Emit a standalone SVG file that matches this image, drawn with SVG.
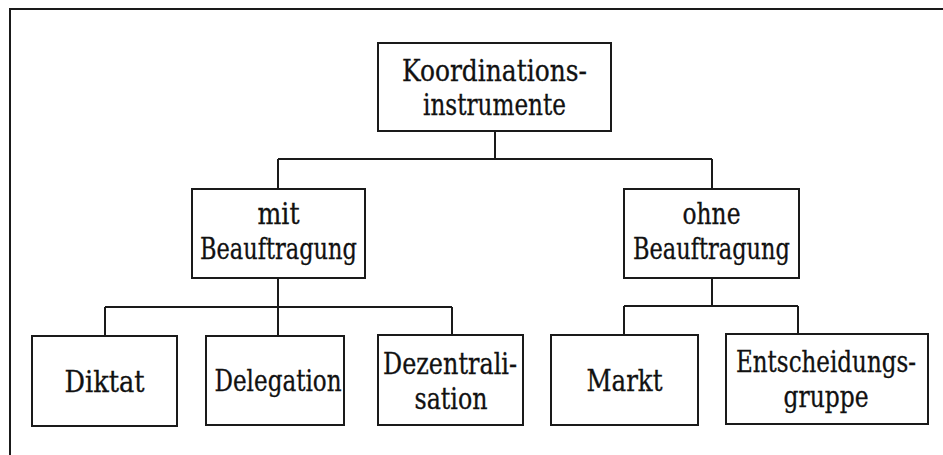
<svg xmlns="http://www.w3.org/2000/svg" width="943" height="455" viewBox="0 0 943 455">
<style>
.box{fill:#fff;stroke:#1a1a1a;stroke-width:2}
.ln{fill:none;stroke:#1a1a1a;stroke-width:2}
text{font-family:'DejaVu Serif Condensed','DejaVu Serif','Liberation Serif',serif;font-size:30px;fill:#111;text-anchor:middle;stroke:#111;stroke-width:0.3}
</style>
<rect width="943" height="455" fill="#fff"/>
<path class="ln" d="M10,455 V9 H943"/>
<g id="connectors">
<path class="ln" d="M495,131 V159 M278,159 H712 M278,159 V189 M712,159 V189"/>
<path class="ln" d="M278,278 V307 M105,307 H452 M105,307 V336 M278,307 V336 M452,307 V336"/>
<path class="ln" d="M712,278 V306 M624,306 H798 M624,306 V335 M798,306 V335"/>
</g>
<g id="koordinationsinstrumente">
<rect class="box" x="378" y="43" width="233" height="88"/>
<text x="494.5" y="81" textLength="185" lengthAdjust="spacingAndGlyphs">Koordinations-</text>
<text x="494.5" y="115" textLength="143" lengthAdjust="spacingAndGlyphs">instrumente</text>
</g>
<g id="mit-beauftragung">
<rect class="box" x="192" y="189" width="173" height="89"/>
<text x="278.5" y="224" textLength="42" lengthAdjust="spacingAndGlyphs">mit</text>
<text x="278.5" y="259" textLength="157" lengthAdjust="spacingAndGlyphs">Beauftragung</text>
</g>
<g id="ohne-beauftragung">
<rect class="box" x="624" y="189" width="175" height="89"/>
<text x="711.5" y="224" textLength="58" lengthAdjust="spacingAndGlyphs">ohne</text>
<text x="711.5" y="259" textLength="157" lengthAdjust="spacingAndGlyphs">Beauftragung</text>
</g>
<g id="diktat">
<rect class="box" x="32" y="336" width="145" height="90"/>
<text x="104.5" y="392" textLength="80" lengthAdjust="spacingAndGlyphs">Diktat</text>
</g>
<g id="delegation">
<rect class="box" x="206" y="336" width="138" height="89"/>
<text x="278" y="391" textLength="127" lengthAdjust="spacingAndGlyphs">Delegation</text>
</g>
<g id="dezentralisation">
<rect class="box" x="378" y="335" width="145" height="90"/>
<text x="450" y="374" textLength="134" lengthAdjust="spacingAndGlyphs">Dezentrali-</text>
<text x="451" y="409" textLength="73" lengthAdjust="spacingAndGlyphs">sation</text>
</g>
<g id="markt">
<rect class="box" x="551" y="335" width="147" height="90"/>
<text x="624.5" y="391" textLength="76" lengthAdjust="spacingAndGlyphs">Markt</text>
</g>
<g id="entscheidungsgruppe">
<rect class="box" x="726" y="334" width="202" height="90"/>
<text x="826" y="372" textLength="180" lengthAdjust="spacingAndGlyphs">Entscheidungs-</text>
<text x="826" y="407" textLength="85" lengthAdjust="spacingAndGlyphs">gruppe</text>
</g>
</svg>
